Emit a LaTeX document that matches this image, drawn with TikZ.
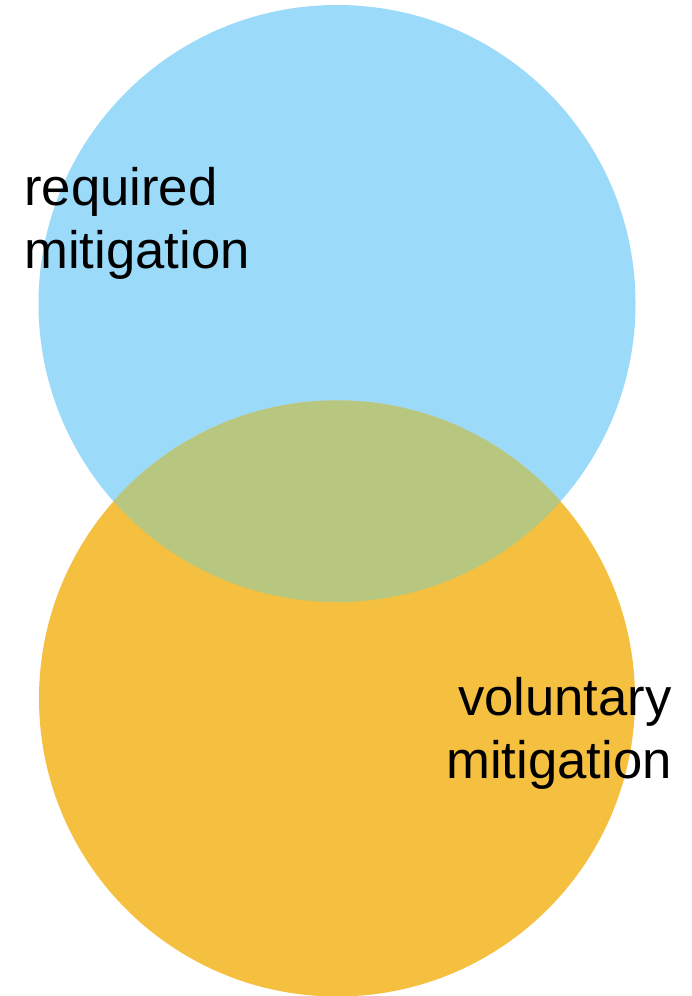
\documentclass[tikz,border=0pt]{standalone}
\usepackage{fontspec}
\setmainfont{Liberation Sans}
\usepackage{xcolor}
\usepackage{tikz}

\begin{document}
\begin{tikzpicture}[x=0.75pt,y=0.75pt,yscale=-1,xscale=1,
  vennlabel/.style={inner sep=0pt,font=\fontsize{39.5}{47.25}\selectfont}]
\useasboundingbox (0,0) rectangle (692,996);

%Shape: Circle [id:required circle]
\fill [color={rgb, 255:red, 155; green, 218; blue, 248 }] (337,303.5) circle [radius=298.5];
%Shape: Circle [id:voluntary circle]
\fill [color={rgb, 255:red, 245; green, 191; blue, 64 }] (337,698.5) circle [radius=298];
%Shape: Overlap
\begin{scope}
\clip (337,303.5) circle [radius=298.5];
\fill [color={rgb, 255:red, 184; green, 199; blue, 128 }] (337,698.5) circle [radius=298];
\end{scope}

% Text Node
\node (required) [vennlabel,anchor=base west,align=left] at (24,268) {required\\mitigation};
% Text Node
\node (voluntary) [vennlabel,anchor=base east,align=right] at (672,778) {voluntary\\mitigation};

\end{tikzpicture}
\end{document}
